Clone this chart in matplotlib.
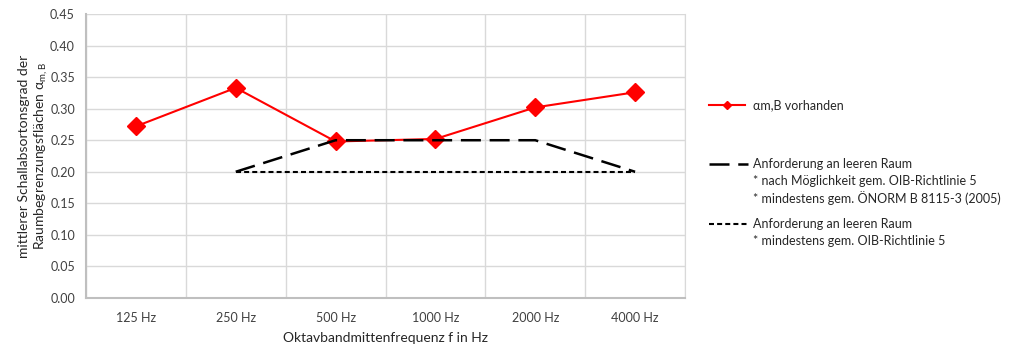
import numpy as np
import matplotlib.pyplot as plt
from matplotlib.lines import Line2D

plt.rcParams['font.family'] = ['Lato', 'DejaVu Sans']
plt.rcParams['font.size'] = 9
plt.rcParams['mathtext.fontset'] = 'custom'
plt.rcParams['mathtext.rm'] = 'Lato'
plt.rcParams['mathtext.it'] = 'Lato'

# Oktavbänder und Messwerte
freq_labels = ['125 Hz', '250 Hz', '500 Hz', '1000 Hz', '2000 Hz', '4000 Hz']
alpha_vorh = [0.272, 0.333, 0.248, 0.252, 0.302, 0.326]
# Anforderungen (ab 250 Hz)
anf_moegl = [np.nan, 0.20, 0.25, 0.25, 0.25, 0.20]
anf_min = [np.nan, 0.20, 0.20, 0.20, 0.20, 0.20]

x = np.arange(len(freq_labels))

fig = plt.figure(figsize=(10.15, 3.47), dpi=100)
ax = fig.add_axes([86/1015, 49/347, 599/1015, 284/347])

ax.plot(x, alpha_vorh, color='#ff0000', lw=1.5, marker='D', markersize=9,
        zorder=3)
ax.plot(x, anf_moegl, color='black', lw=1.8, dashes=(8, 3.5), zorder=4)
ax.plot(x, anf_min, color='black', lw=1.5, dashes=(2.4, 1.5), zorder=4)

ax.set_xlim(-0.5, len(x) - 0.5)
ax.set_ylim(0, 0.45)
yt = np.arange(0, 0.451, 0.05)
ax.set_yticks(yt)
ax.set_yticklabels(['%.2f' % v for v in yt])
ax.set_xticks(x)
ax.set_xticklabels(freq_labels)
ax.set_xticks(np.arange(-0.5, len(x), 1.0), minor=True)
ax.grid(True, axis='y', color='#d9d9d9', lw=1.0)
ax.grid(True, axis='x', which='minor', color='#d9d9d9', lw=1.0)
ax.tick_params(which='both', length=0, colors='#404040', labelsize=9)
ax.tick_params(axis='x', pad=10)
ax.tick_params(axis='y', pad=8)
ax.spines['top'].set_visible(False)
ax.spines['right'].set_color('#d9d9d9')
ax.spines['left'].set_color('#bfbfbf')
ax.spines['bottom'].set_color('#bfbfbf')
ax.spines['left'].set_linewidth(1.5)
ax.spines['bottom'].set_linewidth(1.5)
ax.set_axisbelow(True)

ax.set_xlabel('Oktavbandmittenfrequenz f in Hz', fontsize=10, labelpad=6,
              color='#262626')
ax.set_ylabel('mittlerer Schallabsortonsgrad der\n'
              r'Raumbegrenzungsflächen $\alpha_{\mathrm{m,B}}$',
              fontsize=10, color='#262626', linespacing=1.2)
ax.yaxis.set_label_coords(-0.060, 0.5)

# Legende rechts neben dem Diagramm
def fx(px):
    return px / 1015

def fy(py):
    return 1 - py / 347

tcol = '#262626'
fig.add_artist(Line2D([fx(709), fx(745)], [fy(105), fy(105)], color='#ff0000',
                      lw=1.5))
fig.add_artist(Line2D([fx(727)], [fy(105)], color='#ff0000', marker='D',
                      markersize=4, lw=0))
fig.text(fx(753), fy(105), 'αm,B vorhanden', va='center', color=tcol)

fig.add_artist(Line2D([fx(709), fx(748)], [fy(164), fy(164)], color='black',
                      lw=1.8, dashes=(8, 3.5)))
fig.text(fx(753), fy(164), 'Anforderung an leeren Raum', va='center', color=tcol)
fig.text(fx(753), fy(181), '* nach Möglichkeit gem. OIB-Richtlinie 5',
         va='center', color=tcol)
fig.text(fx(753), fy(198), '* mindestens gem. ÖNORM B 8115-3 (2005)',
         va='center', color=tcol)

fig.add_artist(Line2D([fx(709), fx(748)], [fy(224), fy(224)], color='black',
                      lw=1.5, dashes=(2.4, 1.5)))
fig.text(fx(753), fy(224), 'Anforderung an leeren Raum', va='center', color=tcol)
fig.text(fx(753), fy(241), '* mindestens gem. OIB-Richtlinie 5',
         va='center', color=tcol)

fig.savefig('out.png', dpi=100)
